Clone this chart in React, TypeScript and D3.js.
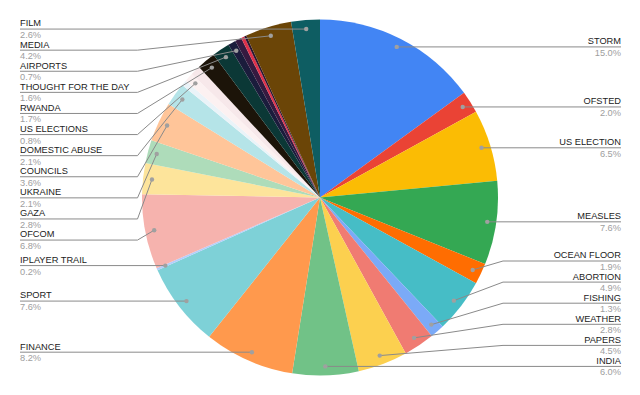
import React from "react";
import * as d3 from "d3";

const categories = [
  "STORM", "OFSTED", "US ELECTION", "MEASLES", "OCEAN FLOOR", "ABORTION", "FISHING",
  "WEATHER", "PAPERS", "INDIA", "FINANCE", "SPORT", "IPLAYER TRAIL", "OFCOM", "GAZA",
  "UKRAINE", "COUNCILS", "DOMESTIC ABUSE", "", "US ELECTIONS", "", "RWANDA",
  "THOUGHT FOR THE DAY", "AIRPORTS", "", "", "", "MEDIA", "FILM",
];
const values = [
  15.0, 2.0, 6.5, 7.6, 1.9, 4.9, 1.3,
  2.8, 4.5, 6.0, 8.2, 7.6, 0.2, 6.8, 2.8,
  2.1, 3.6, 2.1, 0.5, 0.8, 0.9, 1.7,
  1.6, 0.7, 0.6, 0.3, 0.2, 4.2, 2.6,
];
const colors = [
  "#4285F4", "#EA4335", "#FBBC04", "#34A853", "#FF6D01", "#46BDC6", "#7BAAF7",
  "#F07B72", "#FCD04F", "#71C287", "#FF994D", "#7ED1D7", "#B3CEFB", "#F6B3AE", "#FDE49B",
  "#AEDCBA", "#FFC599", "#B5E4E8", "#EAF3F8", "#FCF1F1", "#F7E8EA", "#1C1409",
  "#0B3836", "#1B1C3C", "#361A40", "#E0314B", "#2A1530", "#6B4507", "#0E5D62",
];

const W = 640;
const H = 395;
const cx = 320;
const cy = 197.5;
const R = 178;
const rDot = 169;
const gap = 21.1;
const leftX = 20;
const rightX = 621;
const font = "'Liberation Sans', Arial, sans-serif";
const fs = 9.25;

type Lab = {
  i: number;
  name: string;
  pct: string;
  dx: number;
  dy: number;
  ideal: number;
  y: number;
  side: "L" | "R";
};

export default function App() {
  const total = d3.sum(values);
  const data = values.map((v, i) => ({ v, i }));
  const pie = d3
    .pie<{ v: number; i: number }>()
    .value((d) => d.v)
    .sort(null)
    .startAngle(0)
    .endAngle(2 * Math.PI);
  const arcs = pie(data);
  const arc = d3.arc<d3.PieArcDatum<{ v: number; i: number }>>().innerRadius(0).outerRadius(R);
  const fmt = d3.format(".1f");

  const labels: Lab[] = arcs
    .filter((a) => categories[a.data.i] !== "")
    .map((a) => {
      const mid = (a.startAngle + a.endAngle) / 2;
      const dx = cx + rDot * Math.sin(mid);
      const dy = cy - rDot * Math.cos(mid);
      return {
        i: a.data.i,
        name: categories[a.data.i],
        pct: fmt((a.data.v / total) * 100) + "%",
        dx,
        dy,
        ideal: dy,
        y: dy,
        side: mid < Math.PI ? "R" : "L",
      } as Lab;
    });

  const top = cy - rDot;
  const bottom = cy + rDot;
  (["L", "R"] as const).forEach((side) => {
    const s = labels.filter((l) => l.side === side).sort((a, b) => a.ideal - b.ideal);
    for (let k = 0; k < s.length; k++) {
      let y = Math.max(s[k].ideal, top);
      if (k > 0) y = Math.max(y, s[k - 1].y + gap);
      s[k].y = y;
    }
    for (let k = s.length - 1; k >= 0; k--) {
      let y = Math.min(s[k].y, bottom);
      if (k < s.length - 1) y = Math.min(y, s[k + 1].y - gap);
      s[k].y = y;
    }
  });

  const elbowL = cx - R - 4.5;
  const elbowR = cx + R + 5;

  return (
    <svg
      width={W}
      height={H}
      style={{ position: "absolute", left: 0, top: 0, background: "#fff", display: "block" }}
    >
      <rect x={0} y={0} width={W} height={H} fill="#fff" />
      <g transform={`translate(${cx},${cy})`}>
        {arcs.map((a) => (
          <path key={a.data.i} d={arc(a) || ""} fill={colors[a.data.i]} />
        ))}
      </g>
      {labels.map((l) => {
        const straight = Math.abs(l.y - l.ideal) < 0.5;
        let pts: [number, number][];
        if (l.side === "L") {
          pts = straight
            ? [[leftX, l.dy], [l.dx, l.dy]]
            : [[leftX, l.y], [elbowL, l.y], [l.dx, l.dy]];
        } else {
          pts = straight
            ? [[rightX, l.dy], [l.dx, l.dy]]
            : [[rightX, l.y], [elbowR, l.y], [l.dx, l.dy]];
        }
        const ly = straight ? l.dy : l.y;
        const tx = l.side === "L" ? leftX : rightX;
        const anchor = l.side === "L" ? "start" : "end";
        return (
          <g key={l.i}>
            <path d={d3.line()(pts) || ""} fill="none" stroke="#8a8a8a" strokeWidth={1} />
            <circle cx={l.dx} cy={l.dy} r={2.2} fill="#a0a0a0" />
            <text
              x={tx}
              y={ly - 2.6}
              textAnchor={anchor}
              fontFamily={font}
              fontSize={fs}
              fill="#222"
            >
              {l.name}
            </text>
            <text
              x={tx}
              y={ly + 9}
              textAnchor={anchor}
              fontFamily={font}
              fontSize={fs}
              fill="#9e9e9e"
            >
              {l.pct}
            </text>
          </g>
        );
      })}
    </svg>
  );
}
